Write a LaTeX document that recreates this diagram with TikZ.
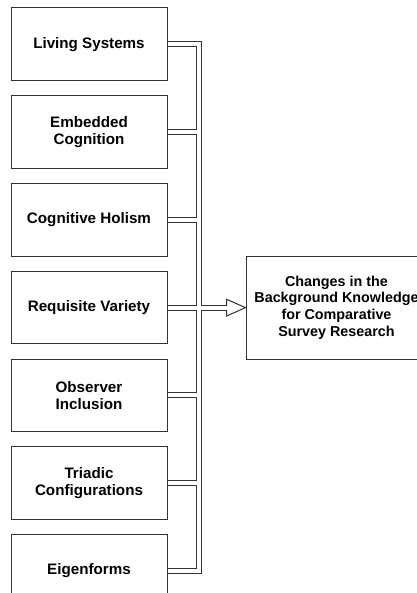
\documentclass[tikz,border=0pt]{standalone}
\usepackage{fontspec}
\setmainfont{Liberation Sans}
\usepackage{tikz}
\usetikzlibrary{positioning, calc, backgrounds}
\definecolor{dgLinha}{HTML}{333333}

\begin{document}
\begin{tikzpicture}[node distance=3.575mm]
  \tikzset{
    cx/.style={rectangle, draw=dgLinha, line width=0.25mm, fill=white,
               minimum width=39mm, minimum height=18.125mm, inner sep=0pt,
               align=center, font=\fontsize{10.8}{11.9}\selectfont\bfseries},
    cxd/.style={cx, minimum width=45.25mm, minimum height=25.75mm,
                font=\fontsize{10.2}{11.9}\selectfont\bfseries},
    tubo/.style={draw=dgLinha, line width=1.5mm},
    furo/.style={draw=white, line width=1mm}}
  \path[use as bounding box, clip] (0,0) rectangle (10.425,-14.825);
  \node[cx] (c1) at (2.225,-1.106) {Living Systems};
  \foreach \i/\p/\lbl in {2/1/{Embedded\\Cognition}, 3/2/{Cognitive Holism},
      4/3/{Requisite Variety}, 5/4/{Observer\\Inclusion},
      6/5/{Triadic\\Configurations}, 7/6/{Eigenforms}}
    \node[cx, below=of c\p] (c\i) {\lbl};
  \node[cxd, right=19.5mm of c4] (bk) {Changes in the\\Background Knowledge\\for Comparative\\Survey Research};
  \coordinate (tr) at (4.9625,0);
  \coordinate (ab) at ($(bk.west)+(-4.75mm,0)$);
  \begin{scope}[on background layer]
    % contorno dos tubos
    \draw[tubo] (c1.east) -| (c7.east -| tr) -- (c7.east);
    \foreach \i in {2,3,5,6} \draw[tubo] (c\i.east) -- (c\i.east -| tr);
    \draw[tubo] (c4.east) -- (ab);
    \draw[dgLinha, line width=0.25mm, fill=white]
      ($(ab)+(0,2.1mm)$) -- (bk.west) -- ($(ab)+(0,-2.1mm)$) -- cycle;
    % miolo branco
    \draw[furo] (c1.east) -| (c7.east -| tr) -- (c7.east);
    \foreach \i in {2,3,5,6} \draw[furo] (c\i.east) -- (c\i.east -| tr);
    \draw[furo] (c4.east) -- ($(ab)+(0.3mm,0)$);
  \end{scope}
\end{tikzpicture}
\end{document}
